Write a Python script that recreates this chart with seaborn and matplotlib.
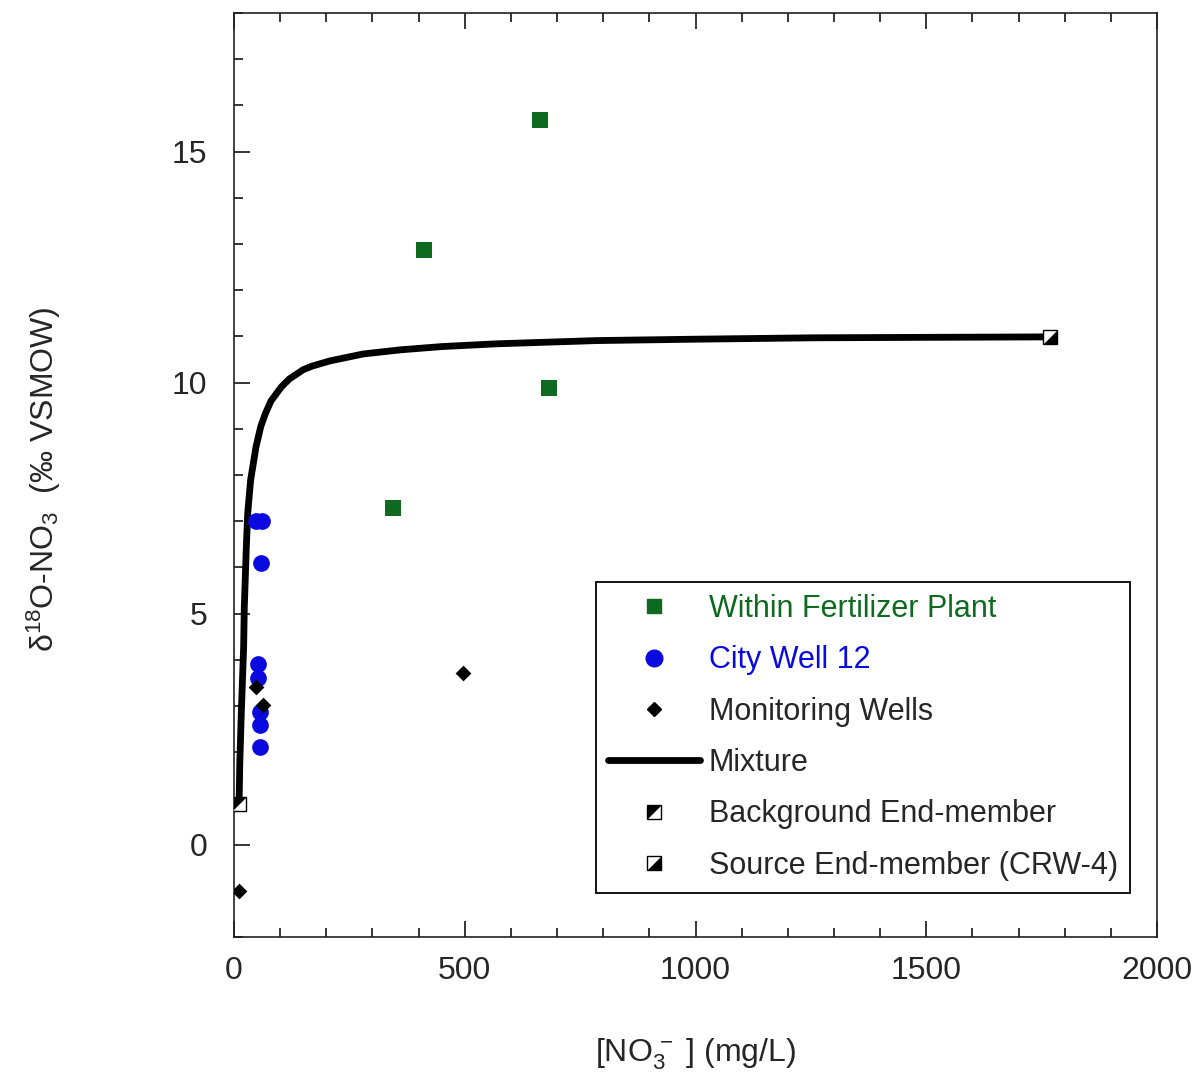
import numpy as np
import pandas as pd
import matplotlib
matplotlib.use("Agg")
import matplotlib.pyplot as plt
from matplotlib.lines import Line2D
from matplotlib.legend_handler import HandlerTuple
from matplotlib.ticker import MultipleLocator
import seaborn as sns

# values
plant_no3 = [663, 412, 683, 345]
plant_d18o = [15.68, 12.86, 9.88, 7.28]

city_no3 = [47, 60, 59, 52, 52, 55.6, 55.6, 55.6]
city_d18o = [7.0, 7.0, 6.10, 3.90, 3.61, 2.87, 2.58, 2.11]

mon_no3 = [48.4, 62.8, 11.5, 496]
mon_d18o = [3.41, 3.02, -1.0, 3.71]

mix_no3 = [11, 12.5, 15.8, 20.9, 22.3, 26.7, 29.6, 36, 47.7, 58, 68, 80, 102,
           120, 150, 170, 208, 280, 361, 450, 569, 786, 1000, 1255, 1500, 1768]
mix_d18o = [0.88, 1.75, 2.84, 4.28, 5.14, 6.44, 7.16, 7.89, 8.61, 9.05, 9.33,
            9.60, 9.90, 10.08, 10.28, 10.36, 10.47, 10.62, 10.71, 10.78,
            10.84, 10.91, 10.94, 10.97, 10.98, 10.99]

bg_no3, bg_d18o = [11], [0.88]
src_no3, src_d18o = [1768], [10.99]

GREEN = "#0d6a1e"
BLUE = "#0a0ae0"

sns.set_style("ticks")
plt.rcParams["font.family"] = ["Liberation Sans", "DejaVu Sans"]
plt.rcParams["mathtext.fontset"] = "custom"
plt.rcParams["mathtext.rm"] = "Liberation Sans"
plt.rcParams["mathtext.it"] = "Liberation Sans"

fig = plt.figure(figsize=(12, 10.86), dpi=100)
ax = fig.add_axes([0.195, 0.1372, 0.7692, 0.8508])

mix = pd.DataFrame({"no3": mix_no3, "d18o": mix_d18o})
sns.lineplot(data=mix, x="no3", y="d18o", sort=False, estimator=None,
             color="black", linewidth=4.9, ax=ax, zorder=2)

sns.scatterplot(x=plant_no3, y=plant_d18o, marker="s", s=117, color=GREEN,
                linewidth=0, ax=ax, zorder=3)
sns.scatterplot(x=city_no3, y=city_d18o, marker="o", s=145, color=BLUE,
                linewidth=0, ax=ax, zorder=3)
sns.scatterplot(x=mon_no3, y=mon_d18o, marker="D", s=64, color="black",
                linewidth=0, ax=ax, zorder=4)

# half-filled end-member squares
tri_bg = [(-1, -1), (-1, 1), (1, 1)]
tri_src = [(-1, -1), (1, -1), (1, 1)]
em_ms = 10.5
for xs, ys, tri in [(bg_no3, bg_d18o, tri_bg), (src_no3, src_d18o, tri_src)]:
    ax.plot(xs, ys, marker="s", ms=em_ms, mfc="white", mec="black", mew=1.0,
            ls="none", zorder=5)
    ax.plot(xs, ys, marker=tri, ms=em_ms, mfc="black", mec="black", mew=0.5,
            ls="none", zorder=6)

ax.set_xlim(0, 2000)
ax.set_ylim(-2, 18)
ax.xaxis.set_major_locator(MultipleLocator(500))
ax.xaxis.set_minor_locator(MultipleLocator(100))
ax.yaxis.set_major_locator(MultipleLocator(5))
ax.yaxis.set_minor_locator(MultipleLocator(1))

ax.tick_params(which="both", direction="in", top=True, right=False,
               width=1.1, color="black")
ax.tick_params(which="major", length=11.5)
ax.tick_params(which="minor", length=6.5)
ax.tick_params(axis="x", which="major", labelsize=23, pad=14)
ax.tick_params(axis="y", which="major", labelsize=23, pad=19)
for sp in ax.spines.values():
    sp.set_visible(True)
    sp.set_linewidth(1.2)
    sp.set_color("#222222")

ax.set_xlabel(r"[NO$_3^{\,-}$ ] (mg/L)", fontsize=23)
ax.set_ylabel(r"δ$^{18}$O-NO$_{3}$  (‰ VSMOW)", fontsize=23)
ax.xaxis.set_label_coords(0.5, -0.108)
ax.yaxis.set_label_coords(-0.185, 0.495)

# legend
h_plant = Line2D([], [], marker="s", ms=10.5, color=GREEN, ls="none")
h_city = Line2D([], [], marker="o", ms=12, color=BLUE, ls="none")
h_mon = Line2D([], [], marker="D", ms=7, color="black", ls="none")
h_mix = Line2D([], [], color="black", lw=4.9)
leg_ms = 9.5


def em_handle(tri):
    sq = Line2D([], [], marker="s", ms=leg_ms, mfc="white", mec="black",
                mew=1.0, ls="none")
    tr = Line2D([], [], marker=tri, ms=leg_ms, mfc="black", mec="black",
                mew=0.5, ls="none")
    return (sq, tr)


handles = [h_plant, h_city, h_mon, h_mix, em_handle(tri_bg), em_handle(tri_src)]
labels = ["Within Fertilizer Plant", "City Well 12", "Monitoring Wells",
          "Mixture", "Background End-member", "Source End-member (CRW-4)"]
leg = ax.legend(handles, labels, loc="lower right",
                bbox_to_anchor=(0.971, 0.0476), fontsize=22, frameon=True,
                fancybox=False, edgecolor="black", framealpha=1,
                handlelength=3.0, handletextpad=0.3, labelspacing=0.70,
                borderpad=0.4, borderaxespad=0,
                handler_map={tuple: HandlerTuple(ndivide=1)})
leg.get_frame().set_linewidth(1.3)
leg.get_texts()[0].set_color(GREEN)
leg.get_texts()[1].set_color(BLUE)

fig.savefig("out.png", dpi=100)
